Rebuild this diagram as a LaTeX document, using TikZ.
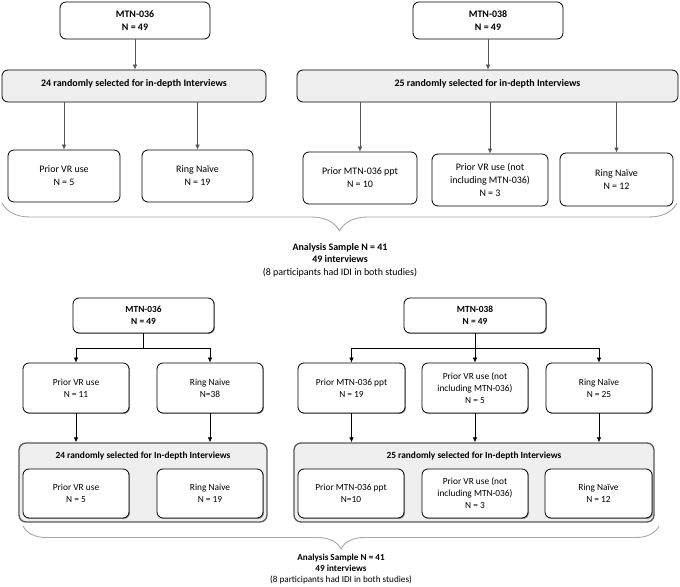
\documentclass[tikz,border=0pt]{standalone}
\usepackage{fontspec}
\setmainfont{Carlito}
\usetikzlibrary{arrows.meta,decorations.pathreplacing,shadows}
\definecolor{boxgray}{HTML}{EFEFEF}
\definecolor{linegray}{HTML}{555555}
\definecolor{bracegray}{HTML}{A6A6A6}
\begin{document}
\begin{tikzpicture}[x=1bp, y=-1bp, line join=round,
    box/.style={draw, rounded corners=6bp, align=center, inner sep=0pt, fill=white,
      font=\fontsize{10}{13}\selectfont, line width=0.8bp},
    lowbox/.style={box, font=\fontsize{9.4}{12}\selectfont,
      drop shadow={shadow xshift=0.9bp, shadow yshift=-0.9bp, fill=black!55, opacity=0.8}},
    selbox/.style={box, fill=boxgray, font=\bfseries\fontsize{10}{13}\selectfont},
    grpbox/.style={draw=black!65, line width=1.3bp, rounded corners=7bp, fill=boxgray, inner sep=0pt},
    arr/.style={-{Latex[length=5bp,width=4.5bp]}, draw=linegray, line width=0.7bp},
    brc/.style={draw=bracegray, line width=0.9bp, decorate}]
  \useasboundingbox (0,0) rectangle (680,587);
  % first design: selection, then groups
  \node[box, font=\bfseries\fontsize{10}{13}\selectfont, minimum width=150bp, minimum height=37bp] (a36) at (135,20.5) {MTN-036\\N = 49};
  \node[box, font=\bfseries\fontsize{10}{13}\selectfont, minimum width=150bp, minimum height=37bp] (a38) at (488,20.5) {MTN-038\\N = 49};
  \node[selbox, minimum width=264bp, minimum height=32bp, text depth=6bp] (sel36) at (134,86) {24 randomly selected for in-depth Interviews};
  \node[selbox, minimum width=381bp, minimum height=32bp, text depth=6bp] (sel38) at (487.5,86) {25 randomly selected for in-depth Interviews};
  \node[box, minimum width=112bp, minimum height=52bp] (vr36) at (64,176) {Prior VR use\\N = 5};
  \node[box, minimum width=111bp, minimum height=52bp] (rn36) at (197.5,176) {Ring Naïve\\N = 19};
  \node[box, minimum width=114bp, minimum height=52bp] (p38) at (360,178) {Prior MTN-036 ppt\\N = 10};
  \node[box, minimum width=116bp, minimum height=52bp] (vr38) at (490,180) {Prior VR use (not\\including MTN-036)\\N = 3};
  \node[box, minimum width=113bp, minimum height=53bp] (rn38) at (616.5,179.5) {Ring Naïve\\N = 12};
  \draw[arr] (a36.south) -- (a36.south |- sel36.north);
  \draw[arr] (a38.south) -- (a38.south |- sel38.north);
  \draw[arr] (vr36.north |- sel36.south) -- (vr36.north);
  \draw[arr] (rn36.north |- sel36.south) -- (rn36.north);
  \draw[arr] (p38.north |- sel38.south) -- (p38.north);
  \draw[arr] (vr38.north |- sel38.south) -- (vr38.north);
  \draw[arr] (rn38.north |- sel38.south) -- (rn38.north);
  \draw[brc, decoration={brace, amplitude=28bp}] (677,203) -- (2,203);
  \node[align=center, font=\fontsize{10}{12.5}\selectfont] (sum1) at (340,260)
    {\textbf{Analysis Sample N = 41}\\\textbf{49 interviews}\\(8 participants had IDI in both studies)};
  % second design: groups, then selection
  \node[lowbox, font=\bfseries\fontsize{9.4}{12}\selectfont, minimum width=141bp, minimum height=35bp] (b36) at (143.5,315.5) {MTN-036\\N = 49};
  \node[lowbox, font=\bfseries\fontsize{9.4}{12}\selectfont, minimum width=142bp, minimum height=35bp] (b38) at (475,315.5) {MTN-038\\N = 49};
  \coordinate (j36) at (143.5,348);
  \coordinate (j38) at (475,348);
  \node[lowbox, minimum width=106bp, minimum height=50bp] (bvr36) at (76,388) {Prior VR use\\N = 11};
  \node[lowbox, minimum width=106bp, minimum height=50bp] (brn36) at (210,388) {Ring Naive\\N=38};
  \node[lowbox, minimum width=107bp, minimum height=50bp] (bp38) at (351.5,388) {Prior MTN-036 ppt\\N = 19};
  \node[lowbox, minimum width=106bp, minimum height=50bp] (bvr38) at (475,388) {Prior VR use (not\\including MTN-036)\\N = 5};
  \node[lowbox, minimum width=106bp, minimum height=50bp] (brn38) at (599,388) {Ring Naïve\\N = 25};
  \draw[line width=0.8bp] (b36.south) -- (j36);
  \draw[arr, draw=black] (j36) -| (bvr36.north);
  \draw[arr, draw=black] (j36) -| (brn36.north);
  \draw[line width=0.8bp] (b38.south) -- (j38);
  \draw[arr, draw=black] (j38) -| (bp38.north);
  \draw[arr, draw=black] (j38) -- (bvr38.north);
  \draw[arr, draw=black] (j38) -| (brn38.north);
  \node[grpbox, minimum width=248bp, minimum height=79bp] (g36) at (143,482.5) {};
  \node[grpbox, minimum width=360bp, minimum height=79bp] (g38) at (474,482.5) {};
  \node[font=\bfseries\fontsize{9.4}{12}\selectfont] (t36) at (143,456) {24 randomly selected for In-depth Interviews};
  \node[font=\bfseries\fontsize{9.4}{12}\selectfont] (t38) at (474,456) {25 randomly selected for In-depth Interviews};
  \draw[arr, draw=black] (bvr36.south) -- (bvr36.south |- g36.north);
  \draw[arr, draw=black] (brn36.south) -- (brn36.south |- g36.north);
  \draw[arr, draw=black] (bp38.south) -- (bp38.south |- g38.north);
  \draw[arr, draw=black] (bvr38.south) -- (bvr38.south |- g38.north);
  \draw[arr, draw=black] (brn38.south) -- (brn38.south |- g38.north);
  \node[lowbox, minimum width=106bp, minimum height=49bp] (iv36) at (76,493.5) {Prior VR use\\N = 5};
  \node[lowbox, minimum width=106bp, minimum height=49bp] (ir36) at (210,493.5) {Ring Naive\\N = 19};
  \node[lowbox, minimum width=106bp, minimum height=49bp] (ip38) at (351,493.5) {Prior MTN-036 ppt\\N=10};
  \node[lowbox, minimum width=106bp, minimum height=49bp] (iv38) at (475,493.5) {Prior VR use (not\\including MTN-036)\\N = 3};
  \node[lowbox, minimum width=107bp, minimum height=49bp] (ir38) at (598.5,493.5) {Ring Naïve\\N = 12};
  \draw[brc, decoration={brace, amplitude=23bp}] (659,526) -- (23,526);
  \node[align=center, font=\fontsize{9.2}{11}\selectfont] (sum2) at (341,569)
    {\textbf{Analysis Sample N = 41}\\\textbf{49 interviews}\\(8 participants had IDI in both studies)};
\end{tikzpicture}
\end{document}
